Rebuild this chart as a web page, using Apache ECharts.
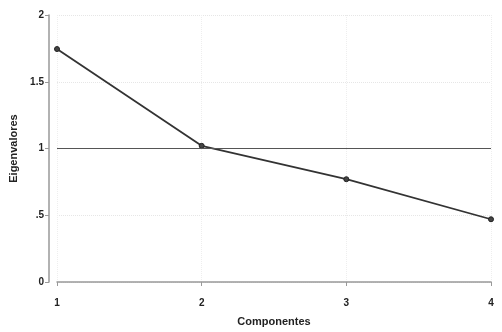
<!DOCTYPE html>
<html><head><meta charset="utf-8">
<script src="https://cdn.jsdelivr.net/npm/echarts@6/dist/echarts.min.js"></script>
<style>html,body{margin:0;padding:0;background:#fff}#c{width:502px;height:332px}</style>
</head><body><div id="c"></div>
<script>
const categories = [1, 2, 3, 4];
const eigenvalues = [1.745, 1.02, 0.77, 0.47];
const yTickLabels = {0: '0', 0.5: '.5', 1: '1', 1.5: '1.5', 2: '2'};
const referenceValue = 1;

const chart = echarts.init(document.getElementById('c'));
chart.setOption({
  animation: false,
  backgroundColor: '#fff',
  textStyle: {fontFamily: 'Liberation Sans, Arial, sans-serif'},
  grid: {left: 56, right: 11, top: 15, bottom: 50},
  xAxis: {
    type: 'value', min: 1, max: 4, interval: 1, offset: 8,
    name: 'Componentes', nameLocation: 'middle', nameGap: 26,
    nameTextStyle: {color: '#222', fontSize: 11, fontWeight: 'bold'},
    axisLine: {lineStyle: {color: '#999', width: 1.5}},
    axisTick: {length: 4, lineStyle: {color: '#999'}},
    axisLabel: {color: '#222', fontSize: 10, fontWeight: 'bold', margin: 8},
    splitLine: {show: true, lineStyle: {color: '#eee', width: 1, type: 'dotted'}}
  },
  yAxis: {
    type: 'value', min: 0, max: 2, interval: 0.5, offset: 8,
    name: 'Eigenvalores', nameLocation: 'middle', nameGap: 30,
    nameTextStyle: {color: '#222', fontSize: 11, fontWeight: 'bold'},
    axisLine: {show: true, lineStyle: {color: '#999', width: 1.5}},
    axisTick: {show: true, length: 4, lineStyle: {color: '#999'}},
    axisLabel: {color: '#222', fontSize: 10, fontWeight: 'bold', margin: 5,
      formatter: v => yTickLabels[v] !== undefined ? yTickLabels[v] : String(v)},
    splitLine: {show: true, lineStyle: {color: '#e6e6e6', width: 1, type: 'dotted'}}
  },
  series: [{
    type: 'line',
    data: categories.map((c, i) => [c, eigenvalues[i]]),
    symbol: 'circle', symbolSize: 5,
    itemStyle: {color: '#444', borderColor: '#222', borderWidth: 1},
    lineStyle: {color: '#333', width: 1.8},
    markLine: {
      silent: true, symbol: 'none', label: {show: false},
      lineStyle: {color: '#555', width: 1, type: 'solid'},
      data: [{yAxis: referenceValue}]
    }
  }]
});
</script></body></html>
